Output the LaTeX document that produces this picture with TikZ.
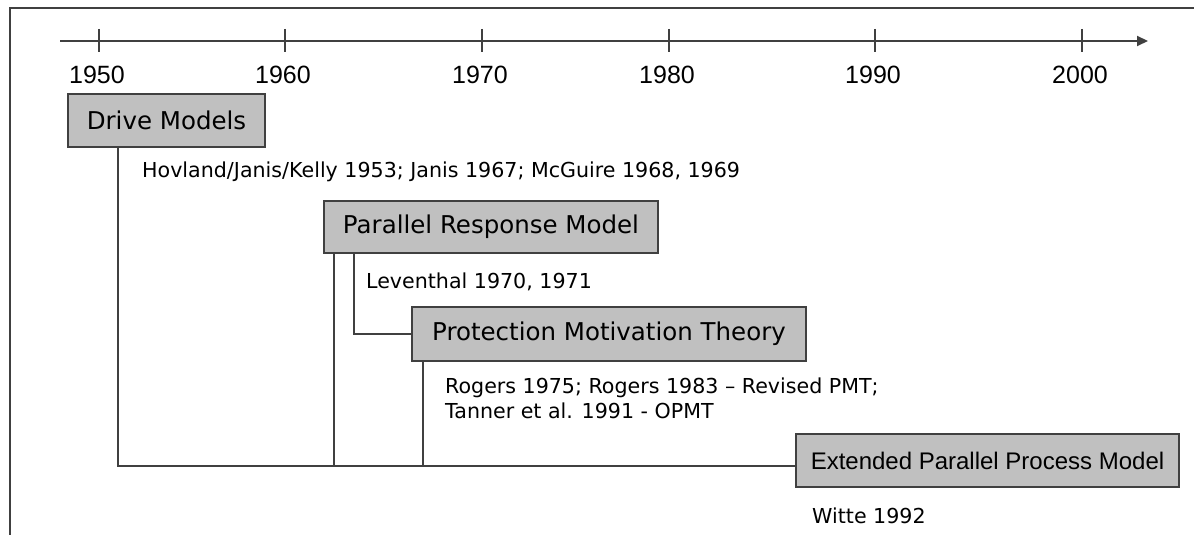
\documentclass[tikz,border=0pt]{standalone}
\usepackage{fontspec}
\setmainfont{DejaVu Sans}
\newfontfamily\arialfont{Liberation Sans}
\usepackage{tikz}
\usetikzlibrary{arrows.meta}
\definecolor{boxgray}{RGB}{192,192,192}
\definecolor{linegray}{RGB}{64,64,64}
\tikzstyle{model}=[draw=linegray, line width=1.4pt, fill=boxgray, inner sep=0pt, font=\fontsize{24.5}{28}\selectfont]
\tikzstyle{cite}=[anchor=base west, inner sep=0pt, font=\fontsize{20.6}{24}\selectfont]
\tikzstyle{year}=[anchor=base, inner sep=0pt, font=\arialfont\fontsize{25}{28}\selectfont]
\tikzstyle{link}=[draw=linegray, line width=1.2pt]

\begin{document}
\begin{tikzpicture}[x=1pt, y=-1pt]
			\useasboundingbox (0,0) rectangle (1194,535);
			% frame, only top and left edge visible
			\coordinate (framebl) at (10,535);
			\coordinate (frametl) at (10,8);
			\coordinate (frametr) at (1194,8);
			\draw[linegray, line width=1.2pt] (framebl) -- (frametl) -- (frametr);
			% the time axis
			\coordinate (axisstart) at (60,41);
			\coordinate (axisend) at (1148,41);
			\draw[linegray, line width=2pt, -{Triangle[length=11pt, width=10pt]}] (axisstart) -- (axisend);
			% ticks and years, using a loop
			\foreach \x/\yr in {99/1950, 285/1960, 482/1970, 669/1980, 875/1990, 1082/2000}{
				\draw[linegray, line width=1.1pt] (\x,29) -- (\x,52);
				\node[year] (y\yr) at (\x-2,83) {\yr};
			}
			% model boxes
			\node[model, minimum width=197pt, minimum height=53pt] (drive) at (166.5,120.5) {Drive Models};
			\node[model, minimum width=334pt, minimum height=52pt] (prm) at (491,227) {Parallel Response Model};
			\node[model, minimum width=394pt, minimum height=54pt] (pmt) at (609,334) {Protection Motivation Theory};
			\node[model, minimum width=383pt, minimum height=53pt, font=\arialfont\fontsize{24}{28}\selectfont] (eppm) at (987.5,460.5) {Extended Parallel Process Model};
			% references
			\node[cite] (hovland) at (142,177) {Hovland/Janis/Kelly 1953; Janis 1967; McGuire 1968, 1969};
			\node[cite] (leventhal) at (366,288) {Leventhal 1970, 1971};
			\node[cite] (rogers) at (445,393) {Rogers 1975; Rogers 1983 – Revised PMT;};
			\node[cite] (tanner) at (445,418) {Tanner et al. 1991 - OPMT};
			\node[cite] (witte) at (812,523) {Witte 1992};
			% connectors
			\coordinate (drivejoin) at (118,466);
			\coordinate (prmjoin) at (334,466);
			\coordinate (prmbend) at (354,334);
			\coordinate (pmtjoin) at (423,466);
			\draw[link] (drive.south -| drivejoin) -- (drivejoin) -- (drivejoin -| eppm.west);
			\draw[link] (prm.south -| prmjoin) -- (prmjoin);
			\draw[link] (prm.south -| prmbend) -- (prmbend) -- (pmt.west);
			\draw[link] (pmt.south -| pmtjoin) -- (pmtjoin);
		\end{tikzpicture}
\end{document}
